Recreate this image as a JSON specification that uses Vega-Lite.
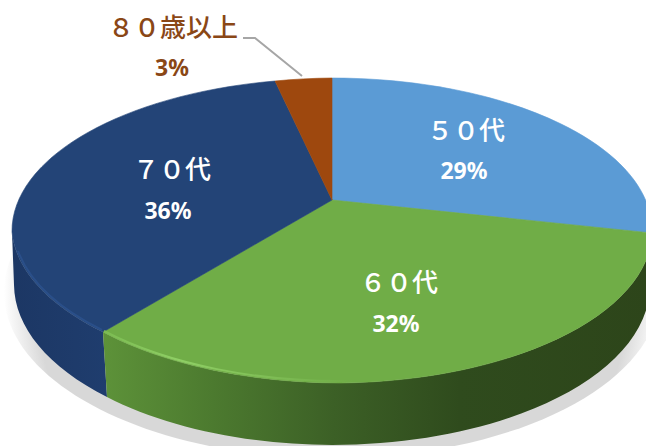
{
"$schema":"https://vega.github.io/schema/vega-lite/v6.json",
"width":646,"height":446,"padding":0,"autosize":{"type":"none"},
"background":"#ffffff",
"config":{"view":{"stroke":null}},
"data":{"values":[
{"age":"５０代","share":0.29},
{"age":"６０代","share":0.32},
{"age":"７０代","share":0.36},
{"age":"８０歳以上","share":0.03}
]},
"layer":[
{"transform":[{"filter":"datum.age=='６０代'"}],
 "mark":{"type":"point","filled":true,"opacity":1,"size":4,
  "shape":"M 9 -97 A 328 166 0 1 1 9 235 A 328 166 0 1 1 9 -97 Z",
  "fill":{"gradient":"radial","x1":0.5,"y1":0.5,"r1":0,"x2":0.5,"y2":0.5,"r2":0.5,"stops":[{"offset":0,"color":"#d8d8d8"},{"offset":0.9,"color":"#d8d8d8"},{"offset":0.96,"color":"#efefef"},{"offset":1,"color":"#ffffff"}]}}},
{"transform":[{"filter":"datum.age=='７０代'"}],
 "mark":{"type":"point","filled":true,"opacity":1,"size":4,
  "shape":"M -311 9 L -309 62 A 318 160 0 0 0 -216 174 L -220 109 A 320 152.5 0 0 1 -311 9 Z",
  "fill":{"gradient":"linear","x1":0,"y1":0,"x2":1,"y2":0,"stops":[{"offset":0,"color":"#1c3764"},{"offset":1,"color":"#1f3d6e"}]}}},
{"transform":[{"filter":"datum.age=='６０代'"}],
 "mark":{"type":"point","filled":true,"opacity":1,"size":4,
  "shape":"M -220 109 A 320 152.5 0 0 0 17 160 A 320 152.5 0 0 0 329 10 L 327 62 A 318 160 0 0 1 9 222 A 318 160 0 0 1 -216 174 Z",
  "fill":{"gradient":"linear","x1":0,"y1":0,"x2":1,"y2":0,"stops":[{"offset":0,"color":"#5d9239"},{"offset":0.2,"color":"#4c7a2f"},{"offset":0.42,"color":"#3c6026"},{"offset":0.65,"color":"#2f4b1d"},{"offset":1,"color":"#2d451a"}]}}},
{"mark":{"type":"point","filled":true,"opacity":1,"size":4,"strokeWidth":0.6},
 "encoding":{
  "shape":{"field":"age","type":"nominal","legend":null,"scale":{"domain":["５０代","６０代","７０代","８０歳以上"],"range":[
   "M 9 -23 L 9 -145 A 320 152.5 0 0 1 329 10 Z",
   "M 9 -23 L 329 10 A 320 152.5 0 0 1 17 160 A 320 152.5 0 0 1 -220 109 Z",
   "M 9 -23 L -220 109 A 320 152.5 0 0 1 -311 9 A 320 152.5 0 0 1 -48 -142 Z",
   "M 9 -23 L -48 -142 A 320 152.5 0 0 1 9 -145 Z"]}},
  "fill":{"field":"age","type":"nominal","legend":null,"scale":{"domain":["５０代","６０代","７０代","８０歳以上"],"range":["#5b9bd5","#70ad47","#234477","#9e480e"]}},
  "stroke":{"field":"age","type":"nominal","legend":null,"scale":{"domain":["５０代","６０代","７０代","８０歳以上"],"range":["#5b9bd5","#70ad47","#234477","#9e480e"]}}
 }},
{"transform":[{"filter":"datum.age=='６０代'"}],
 "mark":{"type":"point","filled":false,"opacity":1,"size":4,"strokeWidth":2,"shape":"M -219 108 A 320 152.5 0 0 0 30 158",
  "stroke":{"gradient":"linear","x1":0,"y1":0,"x2":1,"y2":0,"stops":[{"offset":0,"color":"#7cbc52"},{"offset":0.3,"color":"#8fcf65"},{"offset":1,"color":"#70ad47","opacity":0}]}}},
{"transform":[{"filter":"datum.age=='７０代'"}],
 "mark":{"type":"point","filled":false,"opacity":0.6,"size":4,"strokeWidth":2,"shape":"M -221 107 A 320 152.5 0 0 1 -305 28",
  "stroke":"#2f5796"}},
{"transform":[{"filter":"datum.age=='８０歳以上'"}],
 "mark":{"type":"point","filled":false,"opacity":1,"size":4,"strokeWidth":2,"stroke":"#a6a6a6","shape":"M -80 -185 L -68 -185 L -21 -147"}},
{"transform":[{"filter":"datum.age=='５０代'"}],"mark":{"type":"text","font":"Noto Sans CJK JP","fontSize":26,"fontWeight":500,"color":"#ffffff","dx":143,"dy":-91},"encoding":{"text":{"field":"age"}}},
{"transform":[{"filter":"datum.age=='６０代'"}],"mark":{"type":"text","font":"Noto Sans CJK JP","fontSize":26,"fontWeight":500,"color":"#ffffff","dx":76,"dy":61},"encoding":{"text":{"field":"age"}}},
{"transform":[{"filter":"datum.age=='７０代'"}],"mark":{"type":"text","font":"Noto Sans CJK JP","fontSize":26,"fontWeight":500,"color":"#ffffff","dx":-151,"dy":-52},"encoding":{"text":{"field":"age"}}},
{"transform":[{"filter":"datum.age=='８０歳以上'"}],"mark":{"type":"text","font":"Noto Sans CJK JP","fontSize":26,"fontWeight":500,"color":"#8a4716","dx":-150,"dy":-194},"encoding":{"text":{"field":"age"}}},
{"transform":[{"filter":"datum.age=='５０代'"}],"mark":{"type":"text","font":"Noto Sans","fontSize":23,"fontWeight":"bold","color":"#ffffff","dx":141,"dy":-51},"encoding":{"text":{"field":"share","format":".0%"}}},
{"transform":[{"filter":"datum.age=='６０代'"}],"mark":{"type":"text","font":"Noto Sans","fontSize":23,"fontWeight":"bold","color":"#ffffff","dx":73,"dy":102},"encoding":{"text":{"field":"share","format":".0%"}}},
{"transform":[{"filter":"datum.age=='７０代'"}],"mark":{"type":"text","font":"Noto Sans","fontSize":23,"fontWeight":"bold","color":"#ffffff","dx":-155,"dy":-11},"encoding":{"text":{"field":"share","format":".0%"}}},
{"transform":[{"filter":"datum.age=='８０歳以上'"}],"mark":{"type":"text","font":"Noto Sans","fontSize":23,"fontWeight":"bold","color":"#8a4716","dx":-151,"dy":-154},"encoding":{"text":{"field":"share","format":".0%"}}}
]
}
